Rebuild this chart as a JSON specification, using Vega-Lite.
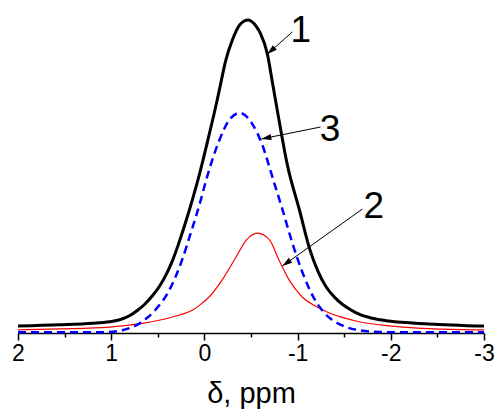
{
  "$schema": "https://vega.github.io/schema/vega-lite/v6.json",
  "width": 466,
  "height": 318,
  "autosize": {"type": "none"},
  "padding": {"left": 18, "top": 15, "right": 12, "bottom": 77},
  "background": "white",
  "config": {"view": {"stroke": null}, "font": "Liberation Sans"},
  "datasets": {
    "curves": [
      {"curve": "1", "delta": 2.0, "intensity": 2.2},
      {"curve": "1", "delta": 1.55, "intensity": 2.6},
      {"curve": "1", "delta": 1.2, "intensity": 3.1},
      {"curve": "1", "delta": 1.02, "intensity": 3.6},
      {"curve": "1", "delta": 0.9, "intensity": 4.3},
      {"curve": "1", "delta": 0.8, "intensity": 5.6},
      {"curve": "1", "delta": 0.72, "intensity": 7.2},
      {"curve": "1", "delta": 0.64, "intensity": 9.2},
      {"curve": "1", "delta": 0.56, "intensity": 11.8},
      {"curve": "1", "delta": 0.48, "intensity": 15.0},
      {"curve": "1", "delta": 0.4, "intensity": 19.3},
      {"curve": "1", "delta": 0.34, "intensity": 23.3},
      {"curve": "1", "delta": 0.26, "intensity": 30.0},
      {"curve": "1", "delta": 0.19, "intensity": 36.5},
      {"curve": "1", "delta": 0.12, "intensity": 43.5},
      {"curve": "1", "delta": 0.05, "intensity": 51.1},
      {"curve": "1", "delta": -0.04, "intensity": 62.0},
      {"curve": "1", "delta": -0.13, "intensity": 73.5},
      {"curve": "1", "delta": -0.16, "intensity": 77.6},
      {"curve": "1", "delta": -0.23, "intensity": 87.2},
      {"curve": "1", "delta": -0.3, "intensity": 93.6},
      {"curve": "1", "delta": -0.38, "intensity": 98.5},
      {"curve": "1", "delta": -0.47, "intensity": 100},
      {"curve": "1", "delta": -0.56, "intensity": 97.8},
      {"curve": "1", "delta": -0.6, "intensity": 95.8},
      {"curve": "1", "delta": -0.676, "intensity": 89.1},
      {"curve": "1", "delta": -0.73, "intensity": 80},
      {"curve": "1", "delta": -0.8, "intensity": 68.1},
      {"curve": "1", "delta": -0.89, "intensity": 53.7},
      {"curve": "1", "delta": -1.02, "intensity": 39.3},
      {"curve": "1", "delta": -1.13, "intensity": 26.8},
      {"curve": "1", "delta": -1.22, "intensity": 19.6},
      {"curve": "1", "delta": -1.3, "intensity": 15.0},
      {"curve": "1", "delta": -1.4, "intensity": 11.3},
      {"curve": "1", "delta": -1.48, "intensity": 9.2},
      {"curve": "1", "delta": -1.56, "intensity": 7.6},
      {"curve": "1", "delta": -1.66, "intensity": 6.0},
      {"curve": "1", "delta": -1.8, "intensity": 4.7},
      {"curve": "1", "delta": -1.98, "intensity": 3.8},
      {"curve": "1", "delta": -2.41, "intensity": 2.9},
      {"curve": "1", "delta": -3.0, "intensity": 2.2},

      {"curve": "2", "delta": 2.0, "intensity": 1.0},
      {"curve": "2", "delta": 1.55, "intensity": 1.3},
      {"curve": "2", "delta": 1.02, "intensity": 1.9},
      {"curve": "2", "delta": 0.67, "intensity": 3.1},
      {"curve": "2", "delta": 0.5, "intensity": 4.0},
      {"curve": "2", "delta": 0.38, "intensity": 4.8},
      {"curve": "2", "delta": 0.25, "intensity": 5.9},
      {"curve": "2", "delta": 0.13, "intensity": 7.3},
      {"curve": "2", "delta": 0.05, "intensity": 8.9},
      {"curve": "2", "delta": -0.05, "intensity": 11.5},
      {"curve": "2", "delta": -0.19, "intensity": 16.9},
      {"curve": "2", "delta": -0.34, "intensity": 24.3},
      {"curve": "2", "delta": -0.45, "intensity": 29.7},
      {"curve": "2", "delta": -0.57, "intensity": 31.9},
      {"curve": "2", "delta": -0.7, "intensity": 29.7},
      {"curve": "2", "delta": -0.8, "intensity": 23.3},
      {"curve": "2", "delta": -0.91, "intensity": 16.9},
      {"curve": "2", "delta": -1.05, "intensity": 11.5},
      {"curve": "2", "delta": -1.23, "intensity": 8.0},
      {"curve": "2", "delta": -1.34, "intensity": 6.4},
      {"curve": "2", "delta": -1.48, "intensity": 5.0},
      {"curve": "2", "delta": -1.66, "intensity": 3.6},
      {"curve": "2", "delta": -1.98, "intensity": 2.3},
      {"curve": "2", "delta": -2.41, "intensity": 1.4},
      {"curve": "2", "delta": -3.0, "intensity": 1.0},

      {"curve": "3", "delta": 2.0, "intensity": 0.2},
      {"curve": "3", "delta": 1.5, "intensity": 0.2},
      {"curve": "3", "delta": 1.02, "intensity": 0.3},
      {"curve": "3", "delta": 0.88, "intensity": 0.9},
      {"curve": "3", "delta": 0.7, "intensity": 3.0},
      {"curve": "3", "delta": 0.52, "intensity": 7.6},
      {"curve": "3", "delta": 0.38, "intensity": 13.5},
      {"curve": "3", "delta": 0.24, "intensity": 23.3},
      {"curve": "3", "delta": 0.13, "intensity": 33.5},
      {"curve": "3", "delta": 0.05, "intensity": 41.3},
      {"curve": "3", "delta": -0.02, "intensity": 49.0},
      {"curve": "3", "delta": -0.09, "intensity": 55.8},
      {"curve": "3", "delta": -0.16, "intensity": 61.6},
      {"curve": "3", "delta": -0.27, "intensity": 68.2},
      {"curve": "3", "delta": -0.38, "intensity": 70.3},
      {"curve": "3", "delta": -0.52, "intensity": 66.5},
      {"curve": "3", "delta": -0.62, "intensity": 60.2},
      {"curve": "3", "delta": -0.73, "intensity": 49.8},
      {"curve": "3", "delta": -0.84, "intensity": 39.2},
      {"curve": "3", "delta": -0.94, "intensity": 29.1},
      {"curve": "3", "delta": -1.05, "intensity": 19.5},
      {"curve": "3", "delta": -1.18, "intensity": 10.9},
      {"curve": "3", "delta": -1.27, "intensity": 7.0},
      {"curve": "3", "delta": -1.48, "intensity": 2.4},
      {"curve": "3", "delta": -1.66, "intensity": 0.9},
      {"curve": "3", "delta": -1.88, "intensity": 0.3},
      {"curve": "3", "delta": -2.2, "intensity": 0.2},
      {"curve": "3", "delta": -3.0, "intensity": 0.2}
    ],
    "labels": [
      {"label": "1", "delta": -1.033, "intensity": 93.0},
      {"label": "3", "delta": -1.349, "intensity": 61.3},
      {"label": "2", "delta": -1.817, "intensity": 36.7}
    ],
    "arrows": [
      {"id": "1", "delta": -0.944, "intensity": 96.2, "delta_tip": -0.676, "intensity_tip": 89.1},
      {"id": "3", "delta": -1.245, "intensity": 65.8, "delta_tip": -0.612, "intensity_tip": 62.0},
      {"id": "2", "delta": -1.695, "intensity": 39.6, "delta_tip": -0.837, "intensity_tip": 21.4}
    ]
  },
  "layer": [
    {
      "data": {"name": "curves"},
      "transform": [{"filter": "datum.curve == '2'"}],
      "mark": {"type": "line", "interpolate": "monotone", "color": "#ff0000", "strokeWidth": 1.2},
      "encoding": {
        "x": {
          "field": "delta", "type": "quantitative",
          "scale": {"domain": [2, -3], "nice": false, "zero": false},
          "axis": {
            "values": [2, 1.5, 1, 0.5, 0, -0.5, -1, -1.5, -2, -2.5, -3],
            "labelExpr": "datum.value % 1 == 0 ? '' + datum.value : ''",
            "tickSize": {"condition": {"test": "datum.value % 1 != 0", "value": 4}, "value": 7},
            "domainColor": "black", "domainWidth": 1.5,
            "tickColor": "black", "tickWidth": 1.5,
            "labelFontSize": 23, "labelColor": "black", "labelFont": "Liberation Sans",
            "labelFlush": false, "labelOverlap": false, "labelPadding": 2,
            "title": "δ, ppm", "titleFontSize": 29, "titleFont": "Liberation Sans",
            "titleFontWeight": "normal", "titleColor": "black", "titlePadding": 14,
            "grid": false
          }
        },
        "y": {
          "field": "intensity", "type": "quantitative",
          "scale": {"domain": [0, 101.6], "nice": false, "zero": false},
          "axis": null
        }
      }
    },
    {
      "data": {"name": "curves"},
      "transform": [{"filter": "datum.curve == '3'"}],
      "mark": {"type": "line", "interpolate": "monotone", "color": "#0000ff", "strokeWidth": 2.5, "strokeDash": [8, 5]},
      "encoding": {
        "x": {"field": "delta", "type": "quantitative"},
        "y": {"field": "intensity", "type": "quantitative"}
      }
    },
    {
      "data": {"name": "curves"},
      "transform": [{"filter": "datum.curve == '1'"}],
      "mark": {"type": "line", "interpolate": "monotone", "color": "#000000", "strokeWidth": 3},
      "encoding": {
        "x": {"field": "delta", "type": "quantitative"},
        "y": {"field": "intensity", "type": "quantitative"}
      }
    },
    {
      "data": {"name": "arrows"},
      "mark": {"type": "rule", "color": "black", "strokeWidth": 1},
      "encoding": {
        "x": {"field": "delta", "type": "quantitative"},
        "y": {"field": "intensity", "type": "quantitative"},
        "x2": {"field": "delta_tip"},
        "y2": {"field": "intensity_tip"}
      }
    },
    {
      "data": {"name": "arrows"},
      "transform": [{"filter": "datum.id == '1'"}],
      "mark": {"type": "point", "shape": "M0,0L-3.3,-1L-3.3,1Z", "filled": true, "color": "black", "opacity": 1, "size": 36, "angle": 138.7, "strokeWidth": 0},
      "encoding": {
        "x": {"field": "delta_tip", "type": "quantitative"},
        "y": {"field": "intensity_tip", "type": "quantitative"}
      }
    },
    {
      "data": {"name": "arrows"},
      "transform": [{"filter": "datum.id == '3'"}],
      "mark": {"type": "point", "shape": "M0,0L-3.3,-1L-3.3,1Z", "filled": true, "color": "black", "opacity": 1, "size": 36, "angle": 168.5, "strokeWidth": 0},
      "encoding": {
        "x": {"field": "delta_tip", "type": "quantitative"},
        "y": {"field": "intensity_tip", "type": "quantitative"}
      }
    },
    {
      "data": {"name": "arrows"},
      "transform": [{"filter": "datum.id == '2'"}],
      "mark": {"type": "point", "shape": "M0,0L-3.3,-1L-3.3,1Z", "filled": true, "color": "black", "opacity": 1, "size": 36, "angle": 144.5, "strokeWidth": 0},
      "encoding": {
        "x": {"field": "delta_tip", "type": "quantitative"},
        "y": {"field": "intensity_tip", "type": "quantitative"}
      }
    },
    {
      "data": {"name": "labels"},
      "mark": {"type": "text", "fontSize": 37, "font": "Liberation Sans", "align": "center", "baseline": "alphabetic", "color": "black"},
      "encoding": {
        "x": {"field": "delta", "type": "quantitative"},
        "y": {"field": "intensity", "type": "quantitative"},
        "text": {"field": "label"}
      }
    }
  ]
}
